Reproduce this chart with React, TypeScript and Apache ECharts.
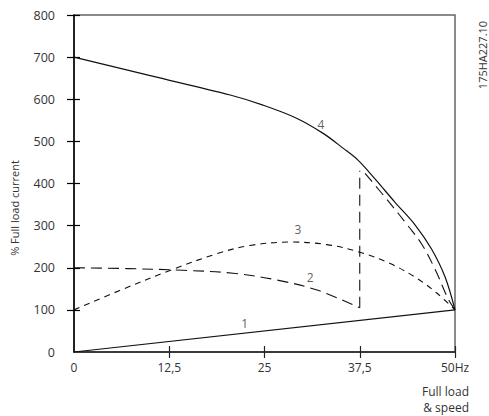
import React, { useEffect, useRef } from "react";
import * as echarts from "echarts";

const xTickValues = [12.5, 25, 37.5, 50];
const xLabelValues = [0, 12.5, 25, 37.5, 50];
const yTickValues = [100, 200, 300, 400, 500, 600, 700, 800];

const curve1: number[][] = [
  [0, 0],
  [50, 100],
];
const curve2a: number[][] = [
  [0, 200],
  [7, 198],
  [14.3, 194],
  [20.9, 187],
  [26.6, 171],
  [31.9, 147],
  [37.5, 105],
];
const curve2b: number[][] = [
  [37.5, 105],
  [37.5, 430],
];
const curve2c: number[][] = [
  [38.2, 424],
  [41.25, 358],
  [43.9, 298],
  [45.6, 257],
  [47.4, 196],
  [49.1, 126],
  [50, 100],
];
const curve3: number[][] = [
  [0, 100],
  [6, 146],
  [12.5, 193],
  [18.7, 233],
  [23.1, 253],
  [28.5, 261],
  [33.2, 255],
  [37.5, 237],
  [41.5, 210],
  [45, 175],
  [47.6, 140],
  [50, 100],
];
const curve4: number[][] = [
  [0, 700],
  [10, 656],
  [20.5, 610],
  [24.8, 586],
  [29.2, 555],
  [32.7, 519],
  [35.3, 484],
  [37.3, 455],
  [39.5, 411],
  [42.1, 356],
  [44.75, 302],
  [46.9, 245],
  [48.7, 178],
  [50, 100],
];
const curveLabels: (string | number)[][] = [
  [22.4, 68, "1"],
  [31.0, 177, "2"],
  [29.4, 291, "3"],
  [32.4, 541, "4"],
];

const FONT = "Open Sans";
const TXT = "#333";

function fmtX(v: number): string {
  if (v === 50) return "50Hz";
  return String(v).replace(".", ",");
}

export default function App() {
  const ref = useRef<HTMLDivElement>(null);
  useEffect(() => {
    if (!ref.current) return;
    const chart = echarts.init(ref.current, null, { renderer: "svg" });
    const lineBase = { type: "line", symbol: "none", xAxisIndex: 0, yAxisIndex: 0, silent: true } as any;
    chart.setOption({
      animation: false,
      grid: {
        left: 74,
        right: 34,
        top: 15,
        bottom: 64,
        show: true,
        borderColor: "#666",
        borderWidth: 1.5,
      },
      xAxis: [
        {
          type: "value",
          min: 0,
          max: 50,
          splitLine: { show: false },
          axisLine: { show: true, lineStyle: { color: "#222", width: 1.5 } },
          axisTick: { show: true, customValues: xTickValues, length: 6, lineStyle: { color: "#222", width: 1.2 } },
          axisLabel: {
            customValues: xLabelValues,
            formatter: fmtX,
            fontFamily: FONT,
            fontSize: 12,
            color: TXT,
            margin: 9,
          },
        },
        {
          type: "value",
          min: 0,
          max: 50,
          position: "bottom",
          splitLine: { show: false },
          axisLine: { show: false },
          axisTick: { show: true, inside: true, customValues: xTickValues, length: 6, lineStyle: { color: "#222", width: 1.2 } },
          axisLabel: { show: false },
        },
      ],
      yAxis: [
        {
          type: "value",
          min: 0,
          max: 800,
          interval: 100,
          splitLine: { show: false },
          axisLine: { show: true, lineStyle: { color: "#000", width: 1.5 } },
          axisTick: { show: true, customValues: yTickValues, length: 7, lineStyle: { color: "#000", width: 1.2 } },
          axisLabel: { fontFamily: FONT, fontSize: 12.5, color: TXT, margin: 19 },
        },
        {
          type: "value",
          min: 0,
          max: 800,
          interval: 100,
          position: "left",
          splitLine: { show: false },
          axisLine: { show: false },
          axisTick: { show: true, inside: true, customValues: yTickValues, length: 6, lineStyle: { color: "#000", width: 1.2 } },
          axisLabel: { show: false },
        },
      ],
      series: [
        { ...lineBase, data: curve1, lineStyle: { color: "#111", width: 1.2 } },
        {
          ...lineBase,
          data: curve2a,
          smooth: 0.35,
          lineStyle: { color: "#111", width: 1.1, type: [11, 6] },
        },
        { ...lineBase, data: curve2b, lineStyle: { color: "#111", width: 1.1, type: [11, 6] } },
        {
          ...lineBase,
          data: curve2c,
          smooth: 0.35,
          lineStyle: { color: "#111", width: 1.1, type: [11, 6] },
        },
        {
          ...lineBase,
          data: curve3,
          smooth: 0.35,
          lineStyle: { color: "#111", width: 1.1, type: [6, 5] },
        },
        {
          ...lineBase,
          data: curve4,
          smooth: 0.35,
          lineStyle: { color: "#111", width: 1.2 },
        },
        {
          type: "scatter",
          silent: true,
          symbolSize: 0,
          data: curveLabels,
          label: {
            show: true,
            position: "inside",
            formatter: (p: any) => p.data[2],
            fontFamily: FONT,
            fontSize: 12,
            color: TXT,
          },
        },
      ],
      graphic: [
        {
          type: "text",
          x: 14,
          y: 208,
          rotation: Math.PI / 2,
          style: {
            text: "% Full load current",
            fontFamily: FONT,
            fontSize: 11,
            fill: TXT,
            align: "center",
            verticalAlign: "middle",
          },
        },
        {
          type: "text",
          x: 482,
          y: 55,
          rotation: Math.PI / 2,
          style: {
            text: "175HA227.10",
            fontFamily: FONT,
            fontSize: 11,
            fill: TXT,
            align: "center",
            verticalAlign: "middle",
          },
        },
        {
          type: "text",
          x: 469,
          y: 391,
          style: {
            text: "Full load",
            fontFamily: FONT,
            fontSize: 12,
            fill: TXT,
            align: "right",
            verticalAlign: "middle",
          },
        },
        {
          type: "text",
          x: 469,
          y: 407,
          style: {
            text: "& speed",
            fontFamily: FONT,
            fontSize: 12,
            fill: TXT,
            align: "right",
            verticalAlign: "middle",
          },
        },
      ],
    });
    return () => chart.dispose();
  }, []);
  return <div ref={ref} style={{ width: 489, height: 416, position: "absolute", left: 0, top: 0 }} />;
}
